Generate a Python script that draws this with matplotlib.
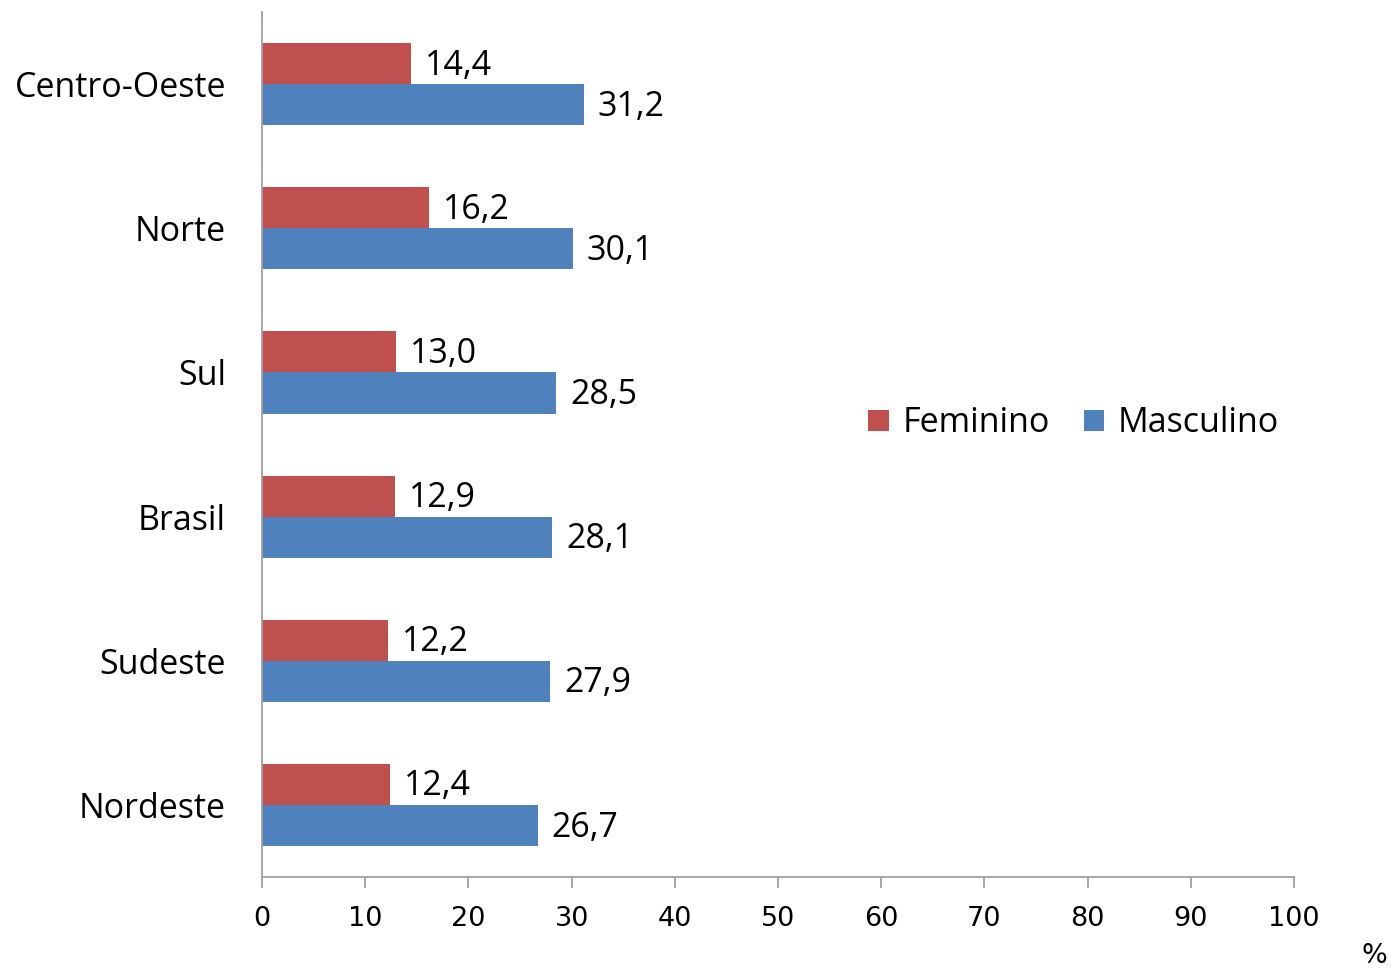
import matplotlib
matplotlib.use("Agg")
from matplotlib import pyplot as plt
import numpy as np

plt.rcParams['font.family'] = ['Open Sans', 'DejaVu Sans']

# data, bottom to top
regioes = ["Nordeste", "Sudeste", "Brasil", "Sul", "Norte", "Centro-Oeste"]
feminino = [12.4, 12.2, 12.9, 13.0, 16.2, 14.4]
masculino = [26.7, 27.9, 28.1, 28.5, 30.1, 31.2]
xticks = [0, 10, 20, 30, 40, 50, 60, 70, 80, 90, 100]

red = "#C0504D"
blue = "#4F81BD"
grey = "#A0A0A0"

fig = plt.figure(figsize=(13.91, 9.71), dpi=100)
ax = fig.add_axes([0.1884, 0.0968, 0.7419, 0.8908])

y = np.arange(len(regioes))
h = 0.285
bf = ax.barh(y + h / 2, feminino, height=h, color=red, label="Feminino")
bm = ax.barh(y - h / 2, masculino, height=h, color=blue, label="Masculino")

def fmt(v):
    return ("%.1f" % v).replace(".", ",")

for bars, vals in [(bf, feminino), (bm, masculino)]:
    for b, v in zip(bars, vals):
        ax.annotate(fmt(v), (v, b.get_y() + b.get_height() / 2),
                    xytext=(10, -1.5), textcoords="offset points",
                    ha="left", va="center", fontsize=24.5)

ax.set_xlim(0, 100)
ax.set_ylim(-0.5, len(regioes) - 0.5)
ax.set_xticks(xticks)
ax.set_xticklabels([str(t) for t in xticks], fontsize=19.5, family="DejaVu Sans")
ax.set_yticks(y)
ax.set_yticklabels(regioes, fontsize=24.5)

for s in ["top", "right"]:
    ax.spines[s].set_visible(False)
for s in ["left", "bottom"]:
    ax.spines[s].set_color(grey)
    ax.spines[s].set_linewidth(1.3)
ax.tick_params(axis="x", direction="out", length=8, color=grey, width=1.3, pad=13)
ax.tick_params(axis="y", length=0, pad=26)

fig.legend(handles=[bf, bm], loc="center", bbox_to_anchor=(0.772, 0.564),
           ncol=2, frameon=False, fontsize=24.5, handlelength=0.6, handleheight=0.6,
           handletextpad=0.4, columnspacing=1.0)

fig.text(0.997, 0.008, "%", ha="right", va="baseline", fontsize=19.5, family="DejaVu Sans")

fig.savefig("out.png", dpi=100)
